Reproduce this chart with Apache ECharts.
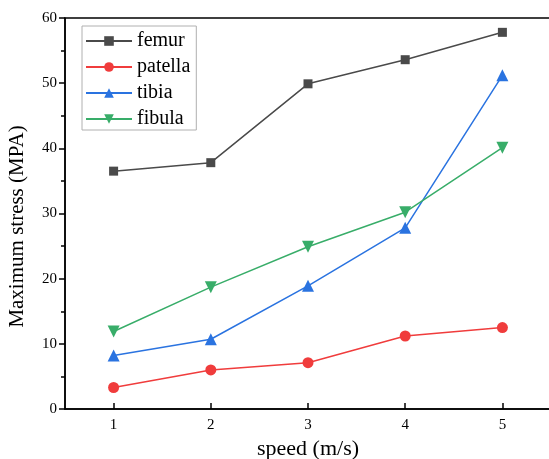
<!DOCTYPE html>
<html>
<head>
<meta charset="utf-8">
<script src="https://cdn.jsdelivr.net/npm/echarts@6/dist/echarts.min.js"></script>
<style>
  html, body { margin: 0; padding: 0; background: #fff; overflow: hidden; }
  #chart { width: 549px; height: 459px; }
</style>
</head>
<body>
<div id="chart"></div>
<script>
// Peak stress (MPa) of each bone at different impact speeds
const speeds = [1, 2, 3, 4, 5];
const femur = [36.5, 37.8, 49.9, 53.6, 57.8];
const patella = [3.3, 6.0, 7.1, 11.2, 12.5];
const tibia = [8.2, 10.7, 18.9, 27.8, 51.2];
const fibula = [11.9, 18.7, 24.9, 30.2, 40.1];

const FONT = 'Liberation Serif';

function pairs(vals) {
  return speeds.map((s, i) => [s, vals[i]]);
}

function lineSeries(name, vals, color, symbol, size) {
  return {
    name: name,
    type: 'line',
    data: pairs(vals),
    symbol: symbol,
    symbolSize: size,
    showSymbol: true,
    lineStyle: { color: color, width: 1.5 },
    itemStyle: { color: color },
    z: 3
  };
}

const chart = echarts.init(document.getElementById('chart'), null, { renderer: 'canvas', width: 549, height: 459 });
chart.setOption({
  animation: false,
  textStyle: { fontFamily: FONT },
  grid: {
    left: 65, top: 18, width: 486, height: 391,
    containLabel: false,
    outerBoundsMode: 'none',
    show: true, borderColor: '#000', borderWidth: 1.5, backgroundColor: 'transparent'
  },
  legend: {
    orient: 'vertical',
    left: 82, top: 26,
    itemWidth: 46, itemHeight: 12,
    itemGap: 6,
    padding: [5, 6, 1, 3],
    borderColor: '#b0b0b0', borderWidth: 1,
    textStyle: { fontFamily: FONT, fontSize: 20, color: '#000' },
    data: ['femur', 'patella', 'tibia', 'fibula']
  },
  xAxis: {
    type: 'value',
    min: 0.5, max: 5.5, interval: 1,
    name: 'speed (m/s)',
    nameLocation: 'middle',
    nameGap: 17,
    nameTextStyle: { fontFamily: FONT, fontSize: 22, color: '#000', verticalAlign: 'top' },
    axisLine: { show: true, lineStyle: { color: '#000', width: 1.5 } },
    axisTick: { show: true, inside: true, length: 6, lineStyle: { color: '#000', width: 1.5 },
      customValues: speeds },
    axisLabel: { fontFamily: FONT, fontSize: 15, color: '#000', margin: 9,
      customValues: speeds },
    splitLine: { show: false }
  },
  yAxis: {
    type: 'value',
    min: 0, max: 60, interval: 10,
    name: 'Maximum stress (MPA)',
    nameLocation: 'middle',
    nameGap: 37,
    nameTextStyle: { fontFamily: FONT, fontSize: 21, color: '#000', padding: [0, 26, 0, 0] },
    axisLine: { show: true, lineStyle: { color: '#000', width: 1.5 } },
    axisTick: { show: true, inside: false, length: 6, lineStyle: { color: '#000', width: 1.5 } },
    minorTick: { show: true, splitNumber: 2, length: 4, lineStyle: { color: '#000', width: 1.5 } },
    axisLabel: { fontFamily: FONT, fontSize: 15, color: '#000', margin: 8 },
    splitLine: { show: false }
  },
  series: [
    lineSeries('femur', femur, '#4a4a4a', 'rect', 9),
    lineSeries('patella', patella, '#f03c3c', 'circle', 11),
    lineSeries('tibia', tibia, '#2a73e0', 'triangle', 12),
    Object.assign(lineSeries('fibula', fibula, '#38ad69', 'triangle', 12), { symbolRotate: 180 })
  ]
});
</script>
</body>
</html>
